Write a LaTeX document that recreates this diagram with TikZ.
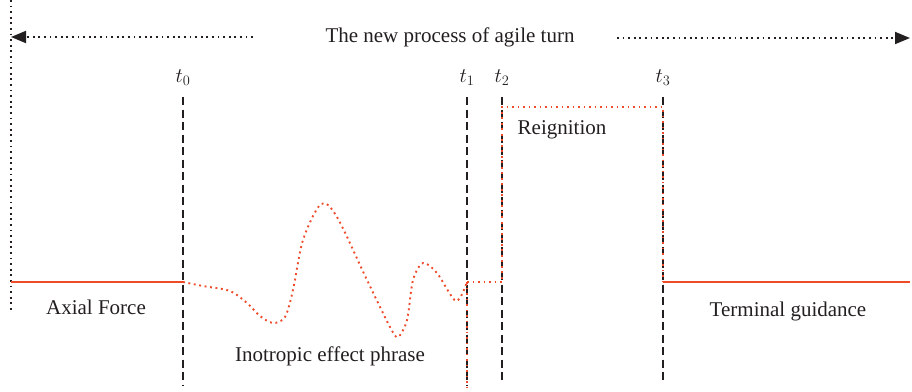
\documentclass[tikz,border=0pt]{standalone}
\usepackage{tikz}
\usepackage{fontspec}
\setmainfont{Liberation Serif}
\usetikzlibrary{arrows.meta,positioning}
\definecolor{force}{HTML}{EE4B2B}
\definecolor{dark}{HTML}{231F20}

\begin{document}
\begin{tikzpicture}[x=1pt, y=-1pt,
    label/.style={font=\fontsize{21}{24}\selectfont, text=dark, inner sep=1pt},
    timeline/.style={draw=dark, line width=1.8pt, dash pattern=on 8pt off 4.5pt},
    forceline/.style={draw=force, line width=1.8pt},
    forcedot/.style={draw=force, line width=1.9pt, dash pattern=on 1.9pt off 3.6pt},
    spanline/.style={draw=dark, line width=1.8pt, dash pattern=on 1.8pt off 3.8pt}
]
    \useasboundingbox (0,0) rectangle (912,391);

    % overall span
    \node[label] (title) at (450,37) {The new process of agile turn};
    \coordinate (origin) at (11,0);
    \coordinate (originbot) at (11,312);
    \coordinate (spanleft) at (11,37);
    \coordinate (spanright) at (910,38);
    \draw[spanline] (origin) -- (originbot);
    \draw[spanline, -{Triangle[length=15pt,width=12pt]}] (253,37) -- (spanleft);
    \draw[spanline, -{Triangle[length=15pt,width=12pt]}] (617,38) -- (spanright);

    % time marks
    \node[label] (t0) at (183,78) {$t_0$};
    \node[label] (t1) at (467,78) {$t_1$};
    \node[label] (t2) at (502,78) {$t_2$};
    \node[label] (t3) at (663,78) {$t_3$};
    \coordinate (t0top) at (183,97);  \coordinate (t0bot) at (183,385);
    \coordinate (t1top) at (467,97);  \coordinate (t1bot) at (467,385);
    \coordinate (t2top) at (502,97);  \coordinate (t2bot) at (502,383);
    \coordinate (t3top) at (663,97);  \coordinate (t3bot) at (663,383);
    \draw[timeline] (t0top) -- (t0bot);
    \draw[timeline] (t1top) -- (t1bot);
    \draw[timeline] (t2top) -- (t2bot);
    \draw[timeline] (t3top) -- (t3bot);

    % axial force
    \coordinate (f0) at (11,282);
    \coordinate (f1) at (183,282);
    \coordinate (f2) at (467,282);
    \coordinate (f3) at (502,282);
    \coordinate (f4) at (502,107);
    \coordinate (f5) at (663,107);
    \coordinate (f6) at (663,282);
    \coordinate (f7) at (910,282);
    \coordinate (f8) at (467,391);
    \draw[forceline] (f0) -- (f1);
    \draw[forcedot] plot[smooth, tension=0.5] coordinates
        {(f1) (203,286) (230,291) (247,303) (260,316) (273,323) (285,317)
         (293,290) (303,240) (321,204) (337,217) (367,280) (390,327)
         (398,337) (407,320) (413,280) (423,263) (437,273) (456,301) (f2)};
    \draw[forcedot] (f2) -- (f3) -- (f4) -- (f5) -- (f6);
    \draw[forcedot] (f2) -- (f8);
    \draw[forceline] (f6) -- (f7);

    \node[label] (axial) at (96,307) {Axial Force};
    \node[label] (inotropic) at (330,356) {Inotropic effect phrase};
    \node[label] (reignition) at (562,130) {Reignition};
    \node[label] (terminal) at (788,311) {Terminal guidance};
\end{tikzpicture}
\end{document}
